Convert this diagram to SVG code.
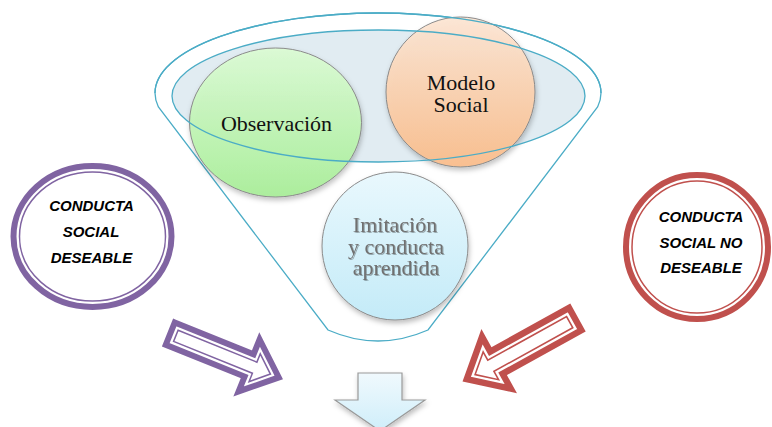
<svg xmlns="http://www.w3.org/2000/svg" width="772" height="427" viewBox="0 0 772 427">
  <defs>
    <linearGradient id="gFunnel" gradientUnits="userSpaceOnUse" x1="0" y1="13" x2="0" y2="190">
      <stop offset="0" stop-color="#e3eef4"/>
      <stop offset="1" stop-color="#ffffff"/>
    </linearGradient>
    <linearGradient id="gGreen" x1="0" y1="0" x2="0" y2="1">
      <stop offset="0" stop-color="#dcfcd4"/>
      <stop offset="1" stop-color="#a8ef98"/>
    </linearGradient>
    <linearGradient id="gOrange" x1="0" y1="0" x2="0" y2="1">
      <stop offset="0" stop-color="#fde6d4"/>
      <stop offset="1" stop-color="#fbbd8a"/>
    </linearGradient>
    <linearGradient id="gBlue" x1="0" y1="0" x2="0" y2="1">
      <stop offset="0" stop-color="#e9f8fd"/>
      <stop offset="1" stop-color="#c4ebf8"/>
    </linearGradient>
    <linearGradient id="gDown" x1="0" y1="0" x2="0" y2="1">
      <stop offset="0" stop-color="#f0f9fd"/>
      <stop offset="1" stop-color="#cfeefa"/>
    </linearGradient>
    <filter id="shadow" x="-20%" y="-20%" width="140%" height="140%">
      <feDropShadow dx="1" dy="3" stdDeviation="2.5" flood-color="#000" flood-opacity="0.25"/>
    </filter>
    <filter id="tshadow" x="-10%" y="-10%" width="120%" height="130%">
      <feDropShadow dx="1" dy="1" stdDeviation="0.6" flood-color="#000" flood-opacity="0.3"/>
    </filter>
  </defs>
  <style>
    .funnel-line { fill: none; stroke: #4bacc6; stroke-width: 1.3; }
    .bubble { stroke: #8a8a8a; stroke-width: 1; }
    .serif { font-family: "Liberation Serif", "Times New Roman", serif; font-size: 22px; text-anchor: middle; }
    .cap { font-family: "Liberation Sans", Arial, sans-serif; font-size: 15px; font-weight: bold; font-style: italic; text-anchor: middle; fill: #000; }
    .ring-purple { fill: #fff; stroke: #8064a2; }
    .ring-red { fill: #fff; stroke: #c0504d; }
  </style>
  <rect width="772" height="427" fill="#ffffff"/>

  <g id="funnel">
    <path d="M155,93 A223,80 0 0 1 601,93 A223,80 0 0 1 597.6,107 L428,330 Q378,352 328,330 L158.4,107 A223,80 0 0 1 155,93 Z" fill="url(#gFunnel)" class="funnel-line"/>
    <ellipse cx="378.5" cy="96" rx="206.5" ry="66" fill="#d9e7ef" fill-opacity="0.8"/>
  </g>

  <g id="observacion">
    <ellipse cx="275.5" cy="122.5" rx="86" ry="74.5" fill="url(#gGreen)" fill-opacity="0.92" class="bubble" filter="url(#shadow)"/>
    <text x="276.5" y="131" class="serif" fill="#111">Observación</text>
  </g>

  <g id="modelo-social">
    <ellipse cx="460.5" cy="92" rx="74.5" ry="75" fill="url(#gOrange)" fill-opacity="0.92" class="bubble" filter="url(#shadow)"/>
    <text x="461" y="90" class="serif" fill="#111">Modelo</text>
    <text x="461" y="112" class="serif" fill="#111">Social</text>
  </g>

  <g id="funnel-outline">
    <ellipse cx="378.5" cy="96" rx="206.5" ry="66" class="funnel-line"/>
    <path d="M155,93 A223,80 0 0 1 601,93" class="funnel-line"/>
  </g>

  <g id="imitacion">
    <ellipse cx="395" cy="246" rx="73" ry="74" fill="url(#gBlue)" class="bubble" filter="url(#shadow)"/>
    <g filter="url(#tshadow)">
      <text x="395" y="232" class="serif" fill="#707070">Imitación</text>
      <text x="396" y="254" class="serif" fill="#707070">y conducta</text>
      <text x="396" y="275" class="serif" fill="#707070">aprendida</text>
    </g>
  </g>

  <g id="conducta-deseable">
    <ellipse cx="92.5" cy="236.5" rx="79" ry="70.5" class="ring-purple" stroke-width="6"/>
    <ellipse cx="92.5" cy="236.5" rx="73" ry="64.5" fill="none" stroke="#8064a2" stroke-width="1.5"/>
    <text x="91.5" y="211" class="cap">CONDUCTA</text>
    <text x="91" y="237" class="cap">SOCIAL</text>
    <text x="91.5" y="263" class="cap">DESEABLE</text>
  </g>

  <g id="conducta-no-deseable">
    <ellipse cx="697" cy="247" rx="71" ry="72" class="ring-red" stroke-width="6"/>
    <ellipse cx="697" cy="247" rx="65" ry="66" fill="none" stroke="#c0504d" stroke-width="1.5"/>
    <text x="701" y="222" class="cap">CONDUCTA</text>
    <text x="701" y="248" class="cap">SOCIAL NO</text>
    <text x="701" y="273" class="cap">DESEABLE</text>
  </g>

  <g id="connectors">
    <g transform="translate(167.5,332.5) rotate(22)">
      <path d="M3,-12 L88,-12 L88,-28 L120,0 L88,28 L88,12 L3,12 Z" fill="#fff" stroke="#8064a2" stroke-width="6" stroke-linejoin="miter"/>
      <path d="M9,-6 L94,-6 L94,-15 L111,0 L94,15 L94,6 L9,6 Z" fill="none" stroke="#8064a2" stroke-width="1.5"/>
    </g>
    <g transform="translate(578,317.5) rotate(151) scale(1.06)">
      <path d="M3,-12 L88,-12 L88,-28 L120,0 L88,28 L88,12 L3,12 Z" fill="#fff" stroke="#c0504d" stroke-width="6" stroke-linejoin="miter"/>
      <path d="M9,-6 L94,-6 L94,-15 L111,0 L94,15 L94,6 L9,6 Z" fill="none" stroke="#c0504d" stroke-width="1.5"/>
    </g>
    <path d="M358,373 L402,373 L402,400 L425,400 L380,431 L335,400 L358,400 Z" fill="url(#gDown)" stroke="#9a9a9a" stroke-width="1.2" filter="url(#shadow)"/>
  </g>
</svg>
